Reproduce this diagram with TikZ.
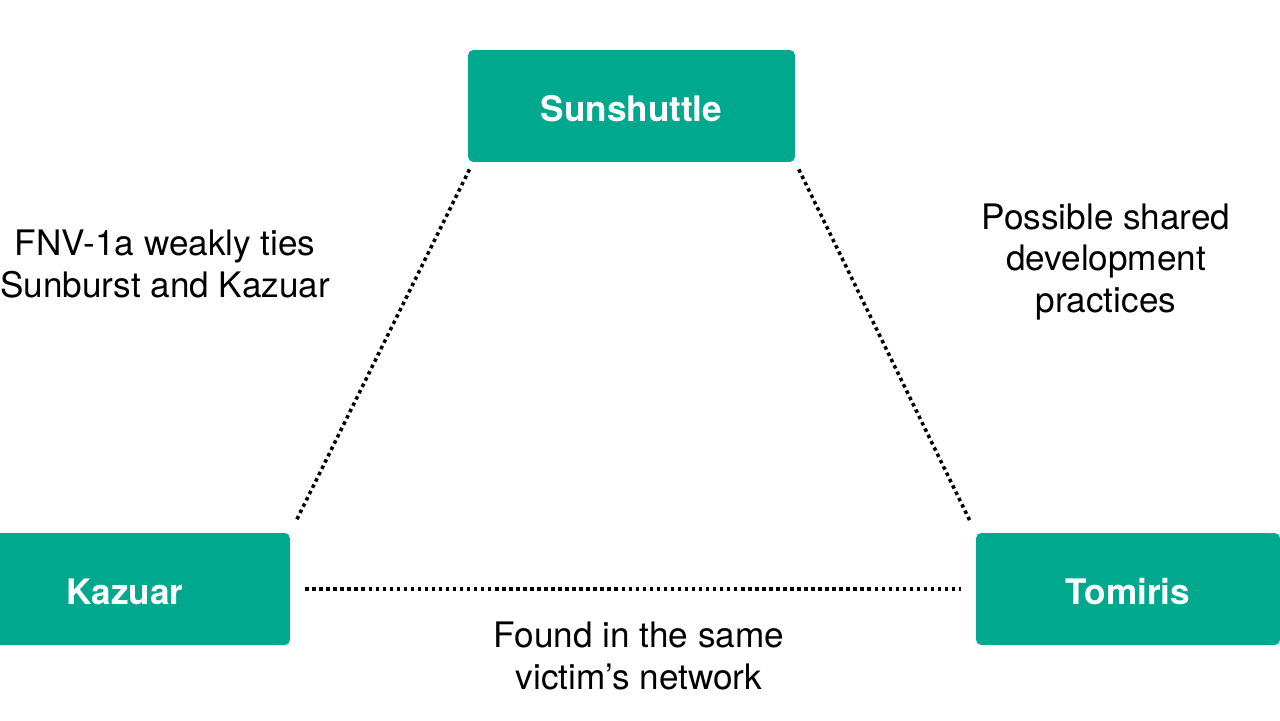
\documentclass[tikz,border=0pt]{standalone}
\usepackage{fontspec}
\setmainfont{TeX Gyre Heros}
\usetikzlibrary{positioning}
\definecolor{kgreen}{HTML}{00A88E}

\begin{document}
\begin{tikzpicture}[x=0.02cm,y=-0.02cm]
\tikzstyle{box}=[fill=kgreen,rounded corners=3pt,text=white,font=\fontsize{20}{24}\selectfont\bfseries,minimum height=2.24cm,inner sep=0pt,text height=18pt,text depth=0pt]
\tikzstyle{link}=[line width=2pt,dash pattern=on 2pt off 2pt]
\tikzstyle{note}=[align=center,font=\fontsize{20}{23.8}\selectfont]
\useasboundingbox (0,0) rectangle (1280,720);
\clip (0,0) rectangle (1280,720);
% the three families
\node[box,minimum width=6.54cm] (sun) at (631.5,106) {Sunshuttle};
\node[box,minimum width=6.6cm] (kaz) at (125,589) {Kazuar};
\node[box,minimum width=6.08cm] (tom) at (1128,589) {Tomiris};
% weak ties
\draw[link,shorten <=4.5pt,shorten >=8pt] ([xshift=3pt]sun.south west) -- (kaz.north east);
\draw[link,shorten <=4.5pt,shorten >=8pt] (sun.south east) -- (tom.north west);
\draw[link,shorten <=8.5pt,shorten >=8.5pt] (kaz.east) -- (tom.west);
\node[note] (fnv) at (165,264) {FNV-1a weakly ties\\Sunburst and Kazuar};
\node[note] (dev) at (1106,262) {Possible shared\\development\\practices};
\node[note] (vic) at (639,656) {Found in the same\\victim’s network};
\end{tikzpicture}
\end{document}
